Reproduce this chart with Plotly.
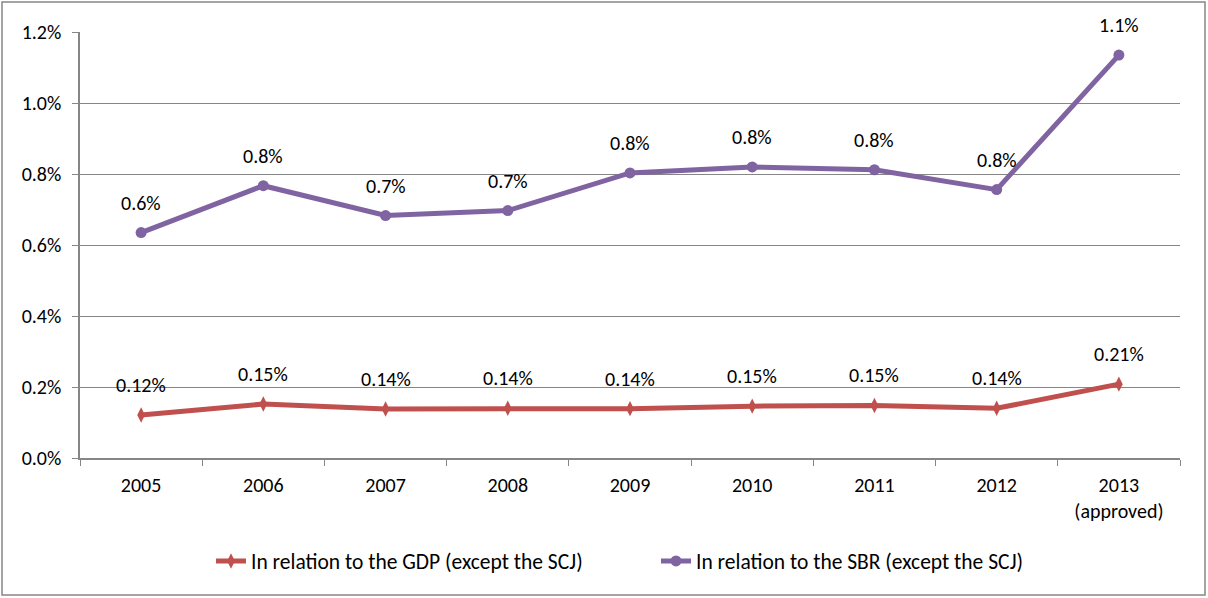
import plotly.graph_objects as go

# Budget share series, 2005-2013
years = ["2005", "2006", "2007", "2008", "2009", "2010", "2011", "2012", "2013<br>(approved)"]
gdp_share = [0.00121, 0.00152, 0.00138, 0.00140, 0.00139, 0.00146, 0.00148, 0.00140, 0.00208]
sbr_share = [0.00635, 0.00767, 0.00683, 0.00697, 0.00803, 0.00820, 0.00812, 0.00756, 0.01135]

gdp_name = "In relation to the GDP (except the SCJ)"
sbr_name = "In relation to the SBR (except the SCJ)"

RED = "#C0504D"
PURPLE = "#8064A2"
GRID = "#868686"
FONT = "Carlito, Calibri, Lato, sans-serif"
FS = 20

fig = go.Figure()
fig.add_trace(go.Scatter(
    x=years, y=gdp_share, name=gdp_name, mode="lines+markers",
    line=dict(color=RED, width=5),
    marker=dict(symbol="diamond-tall", size=11, color=RED),
))
fig.add_trace(go.Scatter(
    x=years, y=sbr_share, name=sbr_name, mode="lines+markers",
    line=dict(color=PURPLE, width=5),
    marker=dict(symbol="circle", size=11, color=PURPLE),
))

# value labels above each point (category index as x position)
for ys, fmt in ((gdp_share, "{:.2%}"), (sbr_share, "{:.1%}")):
    for i, yv in enumerate(ys):
        fig.add_annotation(x=i, y=yv, text=fmt.format(yv), showarrow=False,
                           yshift=30, font=dict(size=FS, color="black", family=FONT))

L, R, T, B = 80, 28, 32, 140
W, H = 1208, 598
pw, ph = W - L - R, H - T - B

# outer chart frame
fig.add_shape(type="rect", xref="paper", yref="paper",
              x0=(2 - L) / pw, x1=(W - 3 - L) / pw,
              y0=-(H - 3 - T - ph) / ph, y1=1 + (T - 2) / ph,
              line=dict(color=GRID, width=1.5), layer="below")

fig.update_layout(
    width=W, height=H,
    margin=dict(l=L, r=R, t=T, b=B),
    paper_bgcolor="white", plot_bgcolor="white",
    font=dict(family=FONT, size=FS, color="black"),
    showlegend=True,
    legend=dict(orientation="h", x=(656 - L) / pw, xanchor="center",
                y=-(561 - (H - B)) / ph, yanchor="middle",
                font=dict(size=21.5), tracegroupgap=0, entrywidth=400),
    xaxis=dict(type="category", showgrid=False, showline=True, linecolor=GRID,
               linewidth=1.5, ticks="outside", tickson="boundaries", ticklen=6,
               tickcolor=GRID, tickfont=dict(size=FS), range=[-0.5, 8.5],
               ticklabelstandoff=8),
    yaxis=dict(range=[0, 0.012], dtick=0.002, tickformat=".1%", showgrid=True,
               gridcolor=GRID, gridwidth=1.2, showline=True, linecolor=GRID,
               linewidth=1.5, ticks="outside", ticklen=6, tickcolor=GRID,
               zeroline=False, tickfont=dict(size=FS), ticklabelstandoff=7),
)

fig.write_html("out.html")
